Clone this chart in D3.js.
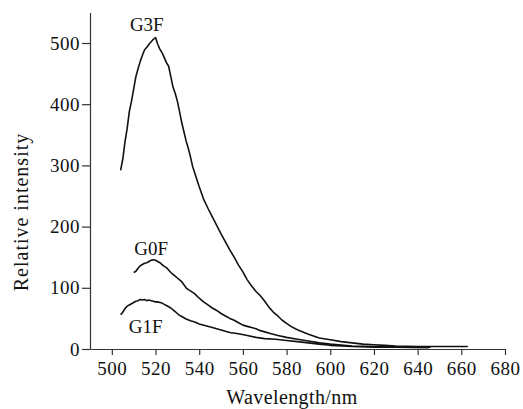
<!DOCTYPE html>
<html>
<head>
<meta charset="utf-8">
<script src="https://cdn.jsdelivr.net/npm/d3@7"></script>
<style>
    body { margin: 0; background: #fff; }
    svg { display: block; }
    svg text { font-family: "Liberation Serif", "Times New Roman", serif; fill: #111; }
</style>
</head>
<body>
<svg class="chart" width="523" height="409"></svg>
<script>
/* Data */
var xTicks = [500, 520, 540, 560, 580, 600, 620, 640, 660, 680];
var yTicks = [0, 100, 200, 300, 400, 500];

var g3fWave = [504, 505, 506, 507, 508, 509, 510, 511, 512, 513, 514, 515, 516, 517, 518, 519, 520,
    521, 522, 523, 524, 525, 526, 527, 528, 529, 530, 531, 532, 533, 534, 535, 536, 537, 538,
    540, 542, 544, 546, 548, 550, 552, 554, 556, 558, 560, 562, 564, 566, 568, 570, 572, 574,
    576, 578, 580, 582, 584, 586, 588, 590, 595, 600, 605, 610, 615, 620, 625, 630, 640, 650, 663];
var g3fValue = [292, 310, 338, 360, 388, 405, 425, 445, 458, 470, 480, 489, 493, 498, 502, 506, 509,
    498, 490, 484, 476, 468, 462, 445, 428, 418, 405, 388, 370, 355, 340, 328, 314, 298, 287,
    265, 245, 230, 216, 202, 188, 175, 162, 150, 137, 126, 113, 103, 94, 87, 78, 68, 60,
    54, 47, 42, 37, 33, 30, 27, 24, 18, 15, 12, 10, 8, 7, 6, 5, 4, 4, 4];

var g0fWave = [510, 511, 512, 513, 514, 515, 516, 517, 518, 519, 520, 521, 522, 523, 524, 525, 526,
    527, 528, 529, 530, 531, 532, 533, 534, 535, 536, 538, 540, 542, 544, 546, 548, 550, 552,
    554, 556, 558, 560, 562, 564, 566, 568, 570, 573, 576, 580, 585, 590, 595, 600, 610, 620, 630, 646];
var g0fValue = [125, 127, 132, 136, 138, 140, 141, 143, 145, 146, 145, 143, 141, 138, 135, 133, 129,
    125, 122, 119, 116, 113, 110, 105, 100, 97, 95, 90, 83, 77, 72, 67, 63, 58, 54,
    50, 47, 43, 39, 37, 35, 33, 30, 28, 25, 22, 19, 16, 13, 10, 8, 5, 4, 3, 3];

var g1fWave = [504, 505, 506, 507, 508, 509, 510, 511, 512, 513, 514, 515, 516, 517, 518, 519, 520,
    521, 522, 523, 524, 525, 526, 527, 528, 529, 530, 531, 532, 534, 536, 538, 540, 543, 546,
    550, 554, 558, 562, 566, 570, 575, 580, 585, 590, 595, 600, 610, 620, 630, 645];
var g1fValue = [56, 60, 66, 70, 72, 74, 76, 78, 79, 81, 80, 81, 79, 80, 79, 78, 77,
    77, 76, 75, 73, 71, 69, 67, 64, 61, 58, 55, 53, 49, 46, 44, 41, 38, 35,
    31, 27, 25, 22, 19, 17, 16, 14, 12, 10, 8, 6, 4, 3, 3, 2];

var seriesNames = ['G3F', 'G0F', 'G1F'];
// label anchor in data units: [wavelength, intensity]
var labelAnchors = [[516, 520], [518, 154], [515.5, 26]];

var xScale = d3.scaleLinear().domain([490, 680]).range([90, 505]);
var yScale = d3.scaleLinear().domain([0, 550]).range([349, 12.4]);

var lineGenerator = d3.line()
    .x(function(d) { return xScale(d[0]); })
    .y(function(d) { return yScale(d[1]); });

function zipSeries(waves, values) {
    return waves.map(function(w, i) {
        return [w, values[i]];
    });
}

var lineData = [
    zipSeries(g3fWave, g3fValue),
    zipSeries(g0fWave, g0fValue),
    zipSeries(g1fWave, g1fValue)
];

var svg = d3.select('.chart');

/* Axes */
var xAxis = svg.append('g')
    .attr('transform', 'translate(0, 349)')
    .call(d3.axisBottom(xScale).tickValues(xTicks).tickSize(6).tickSizeOuter(0).tickPadding(7));

var yAxis = svg.append('g')
    .attr('transform', 'translate(90, 0)')
    .call(d3.axisLeft(yScale).tickValues(yTicks).tickSize(8).tickSizeOuter(0).tickPadding(2));

[xAxis, yAxis].forEach(function(ax) {
    ax.attr('font-family', null).attr('font-size', null);
    ax.selectAll('path, line').style('stroke', '#333').style('stroke-width', 1.2);
    ax.selectAll('text')
        .style('font-size', '19px')
        .style('letter-spacing', '0.5px')
        .style('fill', '#111');
});

/* Lines */
svg.append('g')
    .selectAll('path')
    .data(lineData)
    .join('path')
    .style('fill', 'none')
    .style('stroke', '#111')
    .style('stroke-width', 1.6)
    .style('stroke-linejoin', 'round')
    .attr('d', function(d) {
        return lineGenerator(d);
    });

/* Series labels */
svg.append('g')
    .selectAll('text')
    .data(seriesNames)
    .join('text')
    .attr('x', function(d, i) { return xScale(labelAnchors[i][0]); })
    .attr('y', function(d, i) { return yScale(labelAnchors[i][1]); })
    .style('text-anchor', 'middle')
    .style('font-size', '19px')
    .text(function(d) { return d; });

/* Axis titles */
svg.append('text')
    .attr('x', 292)
    .attr('y', 404)
    .style('text-anchor', 'middle')
    .style('font-size', '20px')
    .style('letter-spacing', '0.4px')
    .text('Wavelength/nm');

svg.append('text')
    .attr('transform', 'translate(28, 212) rotate(-90)')
    .style('text-anchor', 'middle')
    .style('font-size', '20px')
    .style('letter-spacing', '1px')
    .text('Relative intensity');
</script>
</body>
</html>
